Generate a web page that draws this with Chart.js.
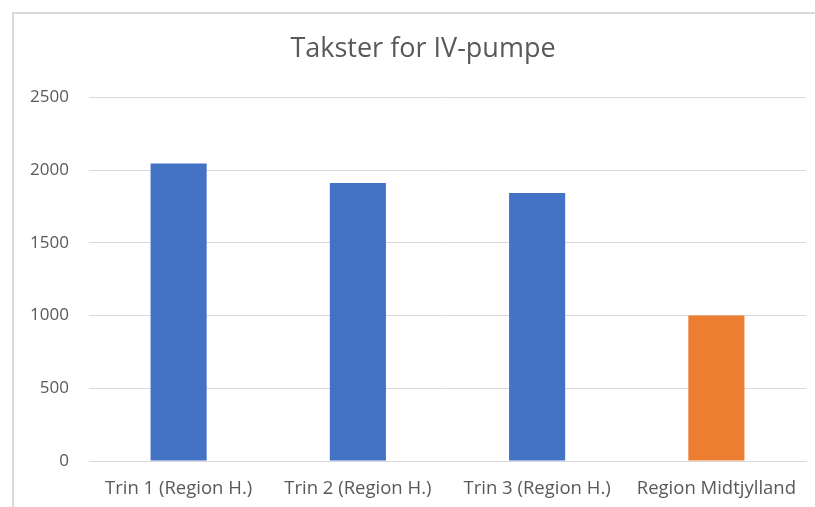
<!DOCTYPE html>
<html>
<head>
<meta charset="utf-8">
<script src="https://cdn.jsdelivr.net/npm/chart.js@4/dist/chart.umd.min.js"></script>
<style>
  html, body { margin: 0; padding: 0; background: #ffffff; }
  #wrap { position: relative; width: 815px; height: 507px; }
  canvas { display: block; }
</style>
</head>
<body>
<div id="wrap"><canvas id="c" width="815" height="507"></canvas></div>
<script>
const categories = ["Trin 1 (Region H.)", "Trin 2 (Region H.)", "Trin 3 (Region H.)", "Region Midtjylland"];
const values = [2045, 1912, 1843, 1000];
const yTicks = [0, 500, 1000, 1500, 2000, 2500];
const titleText = "Takster for IV-pumpe";

const blue = "#4472C4";
const orange = "#ED7D31";
const barColors = [blue, blue, blue, orange];

const frame = {
  id: "frame",
  beforeDraw(chart) {
    const ctx = chart.ctx;
    ctx.save();
    ctx.fillStyle = "#ffffff";
    ctx.fillRect(0, 0, chart.width, chart.height);
    ctx.strokeStyle = "#D9D9D9";
    ctx.lineWidth = 2;
    ctx.strokeRect(13, 13, 900, 600);
    ctx.restore();
  },
  afterLayout(chart) {
    if (chart.titleBlock) {
      chart.titleBlock.left = 40;
    }
  }
};

const fam = "'Open Sans', 'Noto Sans', sans-serif";

new Chart(document.getElementById("c"), {
  type: "bar",
  data: {
    labels: categories,
    datasets: [{
      data: values,
      backgroundColor: barColors,
      borderWidth: 0,
      categoryPercentage: 1,
      barPercentage: 0.313
    }]
  },
  plugins: [frame],
  options: {
    responsive: false,
    animation: false,
    devicePixelRatio: 1,
    layout: { padding: { left: 19, right: 9, top: 0, bottom: 0 } },
    plugins: {
      legend: { display: false },
      tooltip: { enabled: false },
      title: {
        display: true,
        text: titleText,
        color: "#595959",
        font: { family: fam, size: 27, weight: "normal", lineHeight: 1.2 },
        padding: { top: 33, bottom: 32 }
      }
    },
    scales: {
      x: {
        grid: { display: false, drawTicks: false },
        border: { display: true, color: "#D9D9D9", width: 1 },
        ticks: {
          color: "#595959",
          font: { family: fam, size: 18.5 },
          padding: 17,
          maxRotation: 0,
          autoSkip: false
        },
        afterFit(s) { s.height = 46; }
      },
      y: {
        min: 0,
        max: 2500,
        afterBuildTicks(s) { s.ticks = yTicks.map(v => ({ value: v })); },
        grid: { color: "#D9D9D9", drawTicks: false, lineWidth: 1 },
        border: { display: false },
        ticks: {
          color: "#595959",
          font: { family: fam, size: 17 },
          padding: 20,
          callback: v => String(v)
        },
        afterFit(s) { s.width = 70; }
      }
    }
  }
});
</script>
</body>
</html>
